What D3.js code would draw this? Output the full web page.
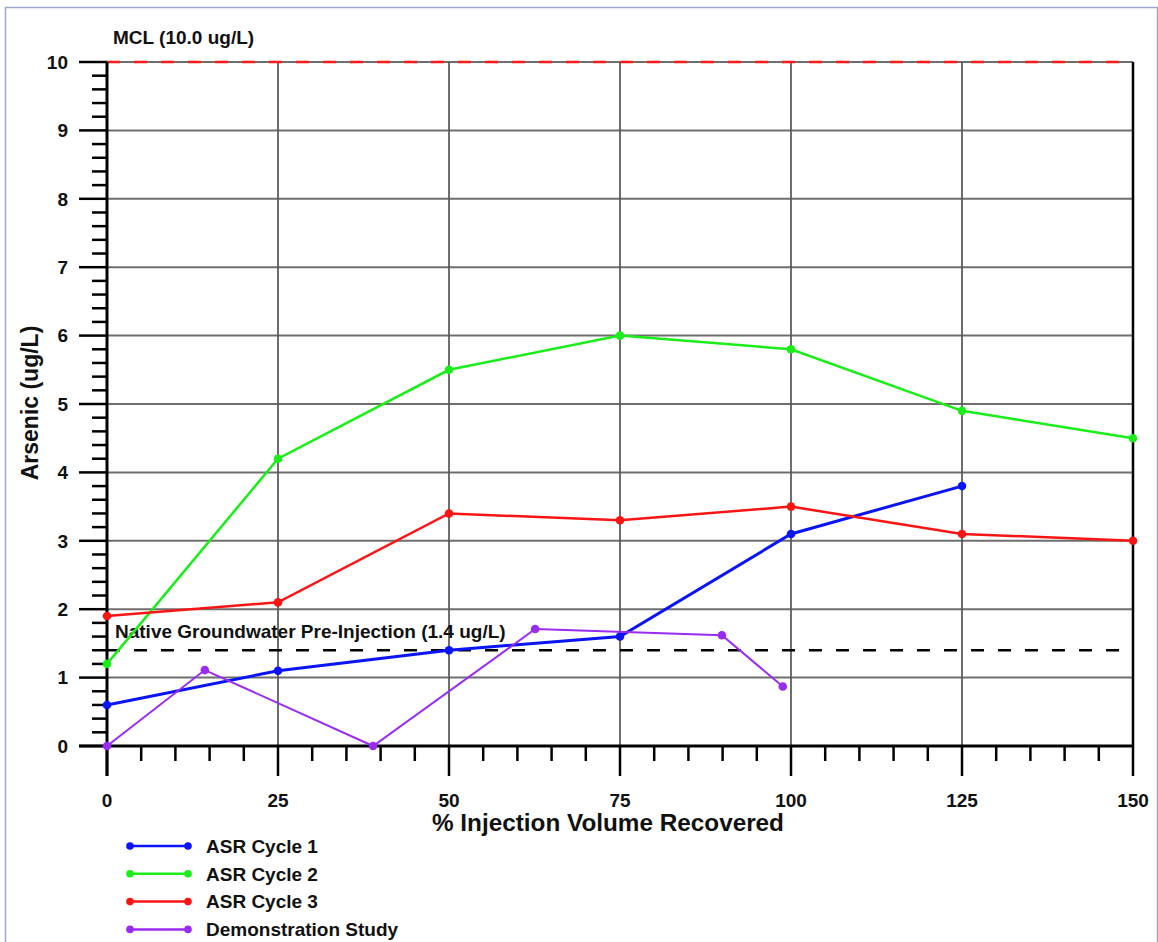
<!DOCTYPE html>
<html>
<head>
<meta charset="utf-8">
<script src="https://cdn.jsdelivr.net/npm/d3@7"></script>
<style>
  html, body { margin: 0; padding: 0; background: #fff; }
  svg text { font-family: "Liberation Sans", Arial, sans-serif; font-weight: bold; fill: #111; }
</style>
</head>
<body>
<svg id="chart" width="1158" height="942"></svg>
<script>
// Arsenic concentration vs. percent of injection volume recovered
const xTicks = [0, 25, 50, 75, 100, 125, 150];
const yTicks = [0, 1, 2, 3, 4, 5, 6, 7, 8, 9, 10];

const cycle1X = [0, 25, 50, 75, 100, 125];
const cycle1Y = [0.6, 1.1, 1.4, 1.6, 3.1, 3.8];

const cycle2X = [0, 25, 50, 75, 100, 125, 150];
const cycle2Y = [1.2, 4.2, 5.5, 6.0, 5.8, 4.9, 4.5];

const cycle3X = [0, 25, 50, 75, 100, 125, 150];
const cycle3Y = [1.9, 2.1, 3.4, 3.3, 3.5, 3.1, 3.0];

const demoX = [0, 14.3, 38.9, 62.6, 89.9, 98.8];
const demoY = [0, 1.11, 0, 1.71, 1.62, 0.87];

const seriesNames = ["ASR Cycle 1", "ASR Cycle 2", "ASR Cycle 3", "Demonstration Study"];
const seriesColors = ["#0a14f5", "#19ee19", "#fb1414", "#9a2cf2"];

const mclValue = 10.0;
const nativeValue = 1.4;
const mclLabel = "MCL (10.0 ug/L)";
const nativeLabel = "Native Groundwater Pre-Injection (1.4 ug/L)";
const xTitle = "% Injection Volume Recovered";
const yTitle = "Arsenic (ug/L)";

const svg = d3.select("#chart");

// outer frame
svg.append("path")
  .attr("d", "M5.5,942 L5.5,7.5 L1157.5,7.5 L1157.5,942")
  .attr("fill", "none").attr("stroke", "#9aa8cc").attr("stroke-width", 1.5);

const x = d3.scaleLinear().domain([0, 150]).range([107, 1133]);
const y = d3.scaleLinear().domain([0, 10]).range([746, 62]);

// grid
const g = svg.append("g");
g.selectAll(".vgrid").data(xTicks.filter(d => d > 0 && d < 150)).enter()
  .append("line")
  .attr("x1", d => x(d)).attr("x2", d => x(d))
  .attr("y1", y(10)).attr("y2", y(0))
  .attr("stroke", "#555").attr("stroke-width", 2).attr("stroke-opacity", 0.85);
g.selectAll(".hgrid").data(yTicks.filter(d => d > 0)).enter()
  .append("line")
  .attr("x1", x(0)).attr("x2", x(150))
  .attr("y1", d => y(d)).attr("y2", d => y(d))
  .attr("stroke", "#555").attr("stroke-width", 2).attr("stroke-opacity", 0.85);

// right border
g.append("line").attr("x1", x(150)).attr("x2", x(150)).attr("y1", y(10)).attr("y2", y(0))
  .attr("stroke", "#000").attr("stroke-width", 2.5);

// reference lines
g.append("line").attr("x1", x(0)).attr("x2", x(150))
  .attr("y1", y(mclValue)).attr("y2", y(mclValue))
  .attr("stroke", "#ff1a1a").attr("stroke-width", 2.5).attr("stroke-dasharray", "13,14");
g.append("line").attr("x1", x(0)).attr("x2", x(150))
  .attr("y1", y(nativeValue)).attr("y2", y(nativeValue))
  .attr("stroke", "#000").attr("stroke-width", 2.5).attr("stroke-dasharray", "13,14");

svg.append("text").attr("x", 113).attr("y", 44).attr("font-size", 19).text(mclLabel);
svg.append("text").attr("x", 115).attr("y", 638).attr("font-size", 19).text(nativeLabel);

// axes with major and minor ticks
const axisG = svg.append("g");
const yMinor = d3.range(0, 10.001, 0.2);
axisG.selectAll(".yminor").data(yMinor).enter().append("line")
  .attr("x1", d => (Math.abs(d - Math.round(d)) < 1e-6) ? 79 : 92).attr("x2", x(0))
  .attr("y1", d => y(d)).attr("y2", d => y(d))
  .attr("stroke", "#000").attr("stroke-width", 2.5);
const xMinor = d3.range(0, 150.001, 5);
axisG.selectAll(".xminor").data(xMinor).enter().append("line")
  .attr("x1", d => x(d)).attr("x2", d => x(d))
  .attr("y1", y(0)).attr("y2", d => (d % 25 === 0) ? 776 : 761)
  .attr("stroke", "#000").attr("stroke-width", 2.5);
axisG.append("line").attr("x1", x(0)).attr("x2", x(0)).attr("y1", y(10)).attr("y2", 776)
  .attr("stroke", "#000").attr("stroke-width", 3);
axisG.append("line").attr("x1", 79).attr("x2", x(150)).attr("y1", y(0)).attr("y2", y(0))
  .attr("stroke", "#000").attr("stroke-width", 3);

axisG.selectAll(".ylab").data(yTicks).enter().append("text")
  .attr("x", 68).attr("y", d => y(d)).attr("dy", "0.36em")
  .attr("text-anchor", "end").attr("font-size", 19).text(d => d);
axisG.selectAll(".xlab").data(xTicks).enter().append("text")
  .attr("x", d => x(d)).attr("y", 807)
  .attr("text-anchor", "middle").attr("font-size", 19).text(d => d);

svg.append("text").attr("x", 608).attr("y", 831).attr("text-anchor", "middle")
  .attr("font-size", 24.3).text(xTitle);
svg.append("text").attr("transform", `translate(38,${(y(0) + y(10)) / 2 - 1}) rotate(-90)`)
  .attr("text-anchor", "middle").attr("font-size", 23).text(yTitle);

// data series
const series = [
  { xs: cycle1X, ys: cycle1Y },
  { xs: cycle2X, ys: cycle2Y },
  { xs: cycle3X, ys: cycle3Y },
  { xs: demoX, ys: demoY }
];
const widths = [3, 2.5, 2.5, 2];
const line = d3.line().x(d => x(d[0])).y(d => y(d[1]));
series.forEach((s, i) => {
  const pts = s.xs.map((v, k) => [v, s.ys[k]]);
  svg.append("path").datum(pts).attr("d", line)
    .attr("fill", "none").attr("stroke", seriesColors[i]).attr("stroke-width", widths[i]);
  svg.selectAll(null).data(pts).enter().append("circle")
    .attr("cx", d => x(d[0])).attr("cy", d => y(d[1])).attr("r", 4.3)
    .attr("fill", seriesColors[i]);
});

// legend
const legend = svg.append("g");
seriesNames.forEach((name, i) => {
  const ly = 846 + i * 27.8;
  legend.append("line").attr("x1", 130).attr("x2", 188).attr("y1", ly).attr("y2", ly)
    .attr("stroke", seriesColors[i]).attr("stroke-width", 2.5);
  legend.append("circle").attr("cx", 130).attr("cy", ly).attr("r", 3.8).attr("fill", seriesColors[i]);
  legend.append("circle").attr("cx", 188).attr("cy", ly).attr("r", 3.8).attr("fill", seriesColors[i]);
  legend.append("text").attr("x", 206).attr("y", ly).attr("dy", "0.36em")
    .attr("font-size", 19).text(name);
});
</script>
</body>
</html>
